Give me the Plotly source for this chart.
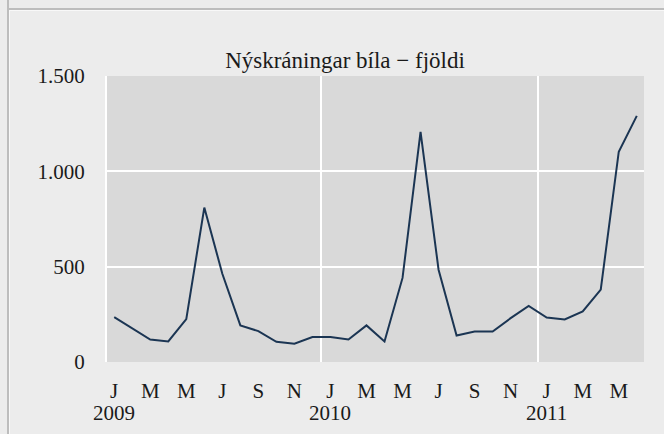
import plotly.graph_objects as go

# Data: monthly new car registrations, Jan 2009 - Jun 2011
months = list(range(30))
values = [235, 176, 118, 108, 225, 810, 463, 192, 162, 106, 96, 131,
          131, 118, 192, 108, 441, 1207, 484, 139, 160, 160, 230, 294,
          233, 223, 265, 380, 1103, 1291]
tick_positions = [0, 2, 4, 6, 8, 10, 12, 14, 16, 18, 20, 22, 24, 26, 28]
tick_labels = ["J", "M", "M", "J", "S", "N",
               "J", "M", "M", "J", "S", "N",
               "J", "M", "M"]
year_positions = [0, 12, 24]
year_labels = ["2009", "2010", "2011"]
year_breaks = [11.5, 23.5]
y_ticks = [0, 500, 1000, 1500]
y_labels = ["0", "500", "1.000", "1.500"]

W, H = 664, 434
ML, MR, MT, MB = 107, 20, 76, 72
pw, ph = W - ML - MR, H - MT - MB


def px(x):
    return (x - ML) / pw


def py(y):
    return (H - MB - y) / ph


FONT = "Liberation Serif"
TXT = "#1a1a1a"

fig = go.Figure()
fig.add_trace(go.Scatter(x=months, y=values, mode="lines",
                         line=dict(color="#1b3553", width=2),
                         showlegend=False, hoverinfo="skip"))

fig.update_layout(
    width=W, height=H,
    margin=dict(l=ML, r=MR, t=MT, b=MB),
    paper_bgcolor="#ececec",
    plot_bgcolor="#d9d9d9",
    font=dict(family=FONT, size=21, color=TXT),
    title=dict(text="Nýskráningar bíla − fjöldi", xref="container",
               x=345 / W, xanchor="center",
               yref="container", y=1 - 60 / H, yanchor="middle",
               font=dict(family=FONT, size=23, color=TXT)),
    xaxis=dict(range=[-0.4, 29.4], tickmode="array", tickvals=tick_positions,
               ticktext=tick_labels, showgrid=False, zeroline=False,
               showline=False, ticks="", ticklabelstandoff=14,
               minor=dict(tickmode="array", tickvals=year_breaks, showgrid=True,
                          gridcolor="white", gridwidth=2, ticks="")),
    yaxis=dict(range=[0, 1500], tickmode="array", tickvals=y_ticks,
               ticktext=y_labels, showgrid=True, gridcolor="white",
               gridwidth=2, zeroline=False, showline=True, linecolor="white",
               linewidth=2, ticks="", ticklabelstandoff=16),
)

for xp, lab in zip(year_positions, year_labels):
    fig.add_annotation(x=xp, xref="x", y=py(413), yref="paper", text=lab,
                       showarrow=False, xanchor="center", yanchor="middle",
                       font=dict(family=FONT, size=21, color=TXT))

# outer frame decorations
fig.add_shape(type="line", xref="paper", yref="paper",
              x0=px(8), x1=px(8), y0=py(0), y1=py(H),
              line=dict(color="#bdbdbd", width=2))
fig.add_shape(type="line", xref="paper", yref="paper",
              x0=px(9), x1=px(W), y0=py(9), y1=py(9),
              line=dict(color="#bdbdbd", width=2))
fig.add_shape(type="line", xref="paper", yref="paper",
              x0=px(10), x1=px(W), y0=py(10.5), y1=py(10.5),
              line=dict(color="#f8f8f8", width=1))
fig.add_shape(type="line", xref="paper", yref="paper",
              x0=px(9.5), x1=px(9.5), y0=py(10), y1=py(H),
              line=dict(color="#f8f8f8", width=1))

fig.write_html("out.html", config={"displayModeBar": False},
               post_script="document.body.style.margin='0px';")
